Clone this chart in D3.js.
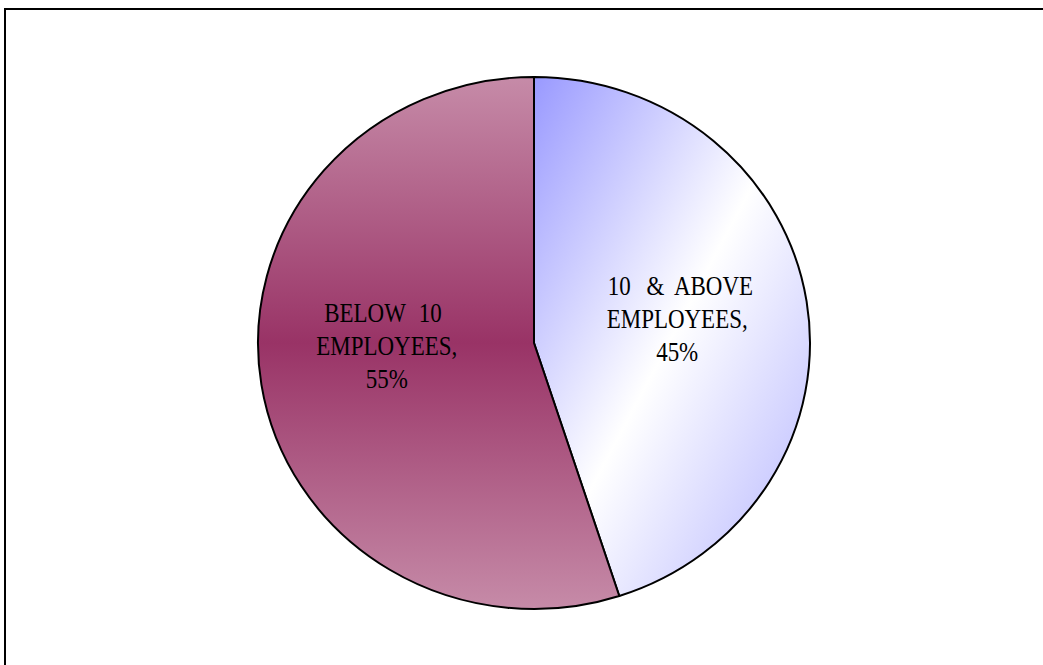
<!DOCTYPE html>
<html>
<head>
<meta charset="utf-8">
<script src="https://cdn.jsdelivr.net/npm/d3@7/dist/d3.min.js"></script>
<style>
  html, body { margin: 0; padding: 0; background: #fff; }
  svg { display: block; }
</style>
</head>
<body>
<svg id="chart" width="1043" height="665"></svg>
<script>
// Share of enterprises by workforce size
const categories = ["10 & ABOVE EMPLOYEES", "BELOW 10 EMPLOYEES"];
const values = [45, 55];
const labelLines = [
  ["10 & ABOVE", "EMPLOYEES,", "45%"],
  ["BELOW 10", "EMPLOYEES,", "55%"]
];

const W = 1043, H = 665;
const cx = 534, cy = 343;
const rx = 276, ry = 266;

const svg = d3.select("#chart");

// gradients
const defs = svg.append("defs");
const gBlue = defs.append("linearGradient").attr("id", "gradAbove")
  .attr("x1", 0).attr("y1", 0).attr("x2", 1).attr("y2", 1);
gBlue.append("stop").attr("offset", 0).attr("stop-color", "#9999ff");
gBlue.append("stop").attr("offset", 0.5).attr("stop-color", "#ffffff");
gBlue.append("stop").attr("offset", 1).attr("stop-color", "#b3b3ff");

const gPlum = defs.append("linearGradient").attr("id", "gradBelow")
  .attr("x1", 0).attr("y1", 0).attr("x2", 0).attr("y2", 1);
gPlum.append("stop").attr("offset", 0).attr("stop-color", "#c68ba8");
gPlum.append("stop").attr("offset", 0.5).attr("stop-color", "#993366");
gPlum.append("stop").attr("offset", 1).attr("stop-color", "#c68ba8");

const fills = ["url(#gradAbove)", "url(#gradBelow)"];

// outer frame (top and left edges)
svg.append("line").attr("x1", 4).attr("y1", 9).attr("x2", W).attr("y2", 9)
  .attr("stroke", "#000").attr("stroke-width", 2);
svg.append("line").attr("x1", 5).attr("y1", 8).attr("x2", 5).attr("y2", H)
  .attr("stroke", "#000").attr("stroke-width", 2);

const pie = d3.pie().sort(null).value(d => d);
const arcs = pie(values);
const arc = d3.arc().innerRadius(0).outerRadius(rx);

// slightly flattened pie
const pieG = svg.append("g")
  .attr("transform", `translate(${cx},${cy}) scale(1,${ry / rx})`);

pieG.selectAll("path.slice")
  .data(arcs)
  .join("path")
  .attr("class", "slice")
  .attr("d", arc)
  .attr("fill", (d, i) => fills[i])
  .attr("stroke", "#000")
  .attr("stroke-width", 2)
  .attr("stroke-linejoin", "round");

// labels: condensed serif, each word centred on its fixed-width character span
const labelArc = d3.arc().innerRadius(145).outerRadius(145);
const labelShift = [[0, -2], [-4, -19]];
const cell = 14.5, lineH = 33, squeeze = 0.82;
const fontFamily = "'Liberation Serif', 'DejaVu Serif', serif";

arcs.forEach((a, i) => {
  const [lx, ly] = labelArc.centroid(a);
  const px = cx + lx + labelShift[i][0];
  const py = cy + ly * (ry / rx) + labelShift[i][1];
  const lines = labelLines[i];
  const g = svg.append("g").attr("class", "label");
  lines.forEach((line, j) => {
    const base = py + (j - (lines.length - 1) / 2) * lineH + 9;
    const left = px - (line.length * cell) / 2;
    const t = g.append("text")
      .attr("transform", `translate(${left},${base}) scale(${squeeze},1)`)
      .attr("font-family", fontFamily)
      .attr("font-size", 28)
      .attr("text-anchor", "middle")
      .attr("fill", "#000");
    let idx = 0;
    line.split(" ").forEach(word => {
      if (word.length) {
        t.append("tspan")
          .attr("x", ((idx + word.length / 2) * cell) / squeeze)
          .attr("y", 0)
          .text(word);
      }
      idx += word.length + 1;
    });
  });
});
</script>
</body>
</html>
